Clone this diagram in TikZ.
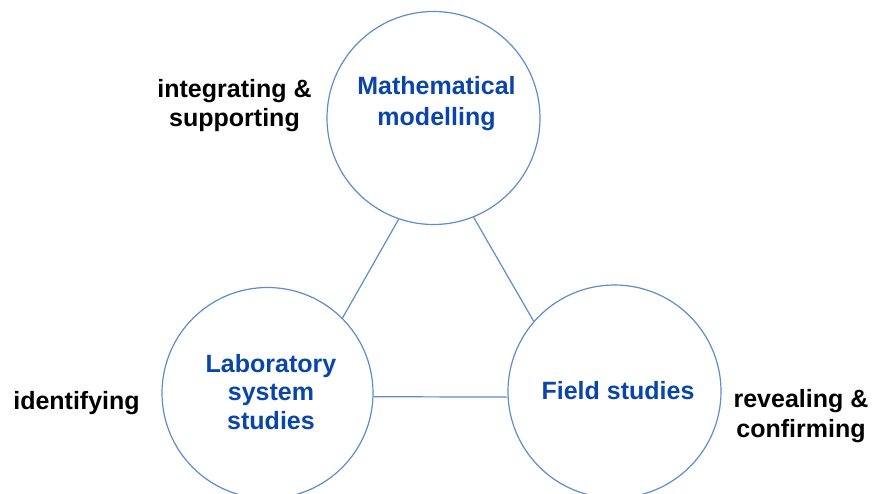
\documentclass[tikz,border=0pt]{standalone}
\usepackage{fontspec}
\setmainfont{Liberation Sans}
\definecolor{ringc}{RGB}{95,140,205}
\definecolor{ttlc}{RGB}{10,70,170}
\tikzset{
  ring/.style={circle, draw=ringc, line width=1.2pt, inner sep=0pt},
  ttl/.style={text=ttlc, font=\bfseries\fontsize{25}{30}\selectfont, align=center, inner sep=0pt, anchor=base},
  lbl/.style={text=black, font=\bfseries\fontsize{25}{30}\selectfont, align=center, inner sep=0pt, anchor=base},
  conn/.style={draw=ringc, line width=1.2pt}
}
\begin{document}
\begin{tikzpicture}[x=1pt,y=-1pt]
\useasboundingbox (0,0) rectangle (872,494);
\node[ring, minimum size=213pt] (M) at (433.5,118) {};
\node[ring, minimum size=211pt] (L) at (267.5,393) {};
\node[ring, minimum size=213pt] (R) at (614.5,391.5) {};
\draw[conn] (M.-109) -- (L.45);
\draw[conn] (M.-68) -- (R.139.5);
\draw[conn] (L.-2) -- (R.183);
\node[ttl, font=\bfseries\fontsize{25}{31}\selectfont] (mt) at (436.5,126) {Mathematical\\modelling};
\node[ttl, font=\bfseries\fontsize{25}{28.5}\selectfont] (lt) at (271,429) {Laboratory\\system\\studies};
\node[ttl] (ft) at (618,399) {Field studies};
\node[lbl, font=\bfseries\fontsize{25}{29}\selectfont] (l1) at (234.5,127) {integrating \&\\supporting};
\node[lbl] (l2) at (76.5,409) {identifying};
\node[lbl] (l3) at (801,437) {revealing \&\\confirming};
\end{tikzpicture}
\end{document}
